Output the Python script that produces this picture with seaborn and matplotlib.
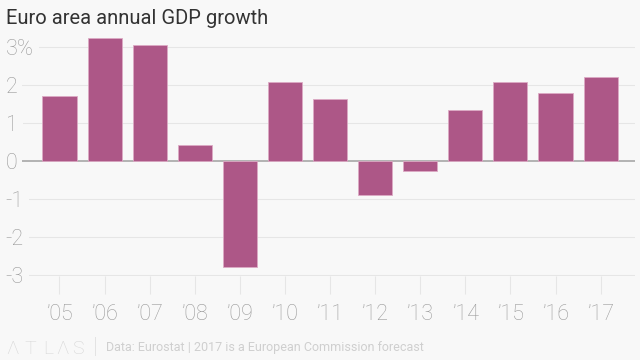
import matplotlib
matplotlib.use("Agg")
import matplotlib.pyplot as plt
import seaborn as sns
import pandas as pd

years = ["\u201905", "\u201906", "\u201907", "\u201908", "\u201909", "\u201910", "\u201911",
         "\u201912", "\u201913", "\u201914", "\u201915", "\u201916", "\u201917"]
growth = [1.70, 3.24, 3.05, 0.41, -2.79, 2.07, 1.62, -0.89, -0.25, 1.33, 2.07, 1.80, 2.20]
ytick_vals = [-3, -2, -1, 0, 1, 2, 3]
ytick_labels = ["-3", "-2", "-1", "0", "1", "2", "3%"]

BG = "#f8f8f8"
BAR = "#ad5787"

sns.set_theme(style="white")
plt.rcParams["font.family"] = ["Roboto", "DejaVu Sans"]

fig = plt.figure(figsize=(6.4, 3.6), dpi=100, facecolor=BG)
W, H = 640, 360
ybot, ytop = -3.03, 3.4
ppu = 38.0
bottom_px = 161 - ybot * ppu
top_px = 161 - ytop * ppu
ax = fig.add_axes([3 / W, (H - bottom_px) / H, (635 - 3) / W, (bottom_px - top_px) / H])
ax.set_facecolor(BG)
ax.set_axisbelow(True)

df = pd.DataFrame({"year": years, "growth": growth})
sns.barplot(data=df, x="year", y="growth", color=BAR, saturation=1, width=0.757,
            edgecolor="#dcaac4", linewidth=0.6, ax=ax, zorder=2)

ax.set_ylim(ybot, ytop)
ax.set_xlim(-1.253, 12.763)
ax.set_xlabel("")
ax.set_ylabel("")

for s in ax.spines.values():
    s.set_visible(False)

ax.set_yticks(ytick_vals)
ax.set_yticklabels(ytick_labels)
ax.yaxis.grid(True, color="#e6e6e6", linewidth=0.8)
ax.xaxis.grid(False)
ax.tick_params(axis="y", length=0, pad=-2, labelsize=15.5, labelcolor="#9a9a9a")
for lbl in ax.get_yticklabels():
    lbl.set_horizontalalignment("left")
    lbl.set_fontweight("light")
    lbl.set_bbox(dict(facecolor=BG, edgecolor="none", pad=3.5))
gl = ax.yaxis.get_gridlines()
gl[ytick_vals.index(0)].set_color("#a0a0a0")
gl[ytick_vals.index(0)].set_linewidth(1.1)

ax.tick_params(axis="x", length=13, width=0.8, color="#e6e6e6", direction="out",
               pad=7, labelsize=15.5, labelcolor="#9a9a9a", bottom=True)
for lbl in ax.get_xticklabels():
    lbl.set_fontweight("light")

fig.text(6 / W, 1 - 18 / H, "Euro area annual GDP growth", fontsize=14.5,
         color="#333333", ha="left", va="center")

logo_letters = ["\u039b", "T", "L", "\u039b", "S"]
logo_x = [12.5, 30.5, 48, 62.5, 78]
for ch, xp in zip(logo_letters, logo_x):
    fig.text(xp / W, 1 - 349 / H, ch, fontsize=14, color="#d6d6d6",
             ha="center", va="center", fontweight="light")
fig.text(95 / W, 1 - 347 / H, "|", fontsize=16, color="#d6d6d6",
         ha="center", va="center", fontweight="light")
fig.text(106 / W, 1 - 348 / H, "Data: Eurostat | 2017 is a European Commission forecast",
         fontsize=9, color="#cfcfcf", ha="left", va="center")

fig.savefig("out.png", dpi=100, facecolor=BG)
